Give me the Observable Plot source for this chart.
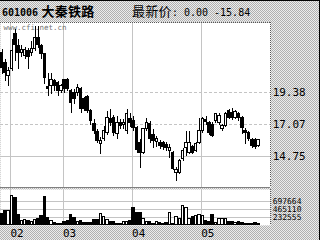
<!DOCTYPE html>
<html><head><meta charset="utf-8">
<script src="https://cdn.jsdelivr.net/npm/d3@7"></script>
<script src="https://cdn.jsdelivr.net/npm/@observablehq/plot@0.6"></script>
<style>
html,body{margin:0;padding:0;background:#fff;}
#wrap{position:relative;width:320px;height:240px;overflow:hidden;box-sizing:border-box;
 background-color:#d0d0d0;
 background-image:conic-gradient(#b0b0b0 25%, #ececec 0 50%, #b0b0b0 0 75%, #ececec 0);
 background-size:2px 2px;border-top:1px solid #000;border-right:1px solid #000;}
#head{position:absolute;left:0;top:0;height:20px;width:320px;white-space:nowrap;}
.t{position:absolute;top:1px;font-size:13px;line-height:17px;color:#000;}
.m{font-family:"DejaVu Sans Mono",monospace;font-size:10px;}
.c{font-family:"Noto Sans CJK SC",sans-serif;font-size:13px;}
#price{position:absolute;left:0;top:20px;}
#vol{position:absolute;left:0;top:186px;}
svg{display:block;}
</style></head>
<body><div id="wrap">
<div id="head">
 <span class="t" style="left:2px;font-weight:bold;"><span class="m" style="font-weight:bold">601006</span> <span class="c" style="font-weight:bold;letter-spacing:0.3px">大秦铁路</span></span>
 <span class="t" style="left:132px;"><span class="c" style="letter-spacing:0.3px">最新价</span><span class="m">: 0.00 -15.84</span></span>
</div>
<div id="price"></div>
<div id="vol"></div>
</div>
<script>
const open  = [22.20,21.48,20.54,21.04,23.60,22.71,22.20,21.99,22.35,22.27,22.56,23.29,22.71,22.13,19.74,19.81,20.18,20.03,19.45,20.25,20.25,19.45,19.31,19.31,19.60,18.87,19.02,18.01,17.06,16.49,15.62,15.98,16.41,17.43,17.50,16.34,17.14,16.99,16.56,17.43,17.28,16.78,15.69,14.97,16.70,17.06,16.27,15.76,15.69,15.69,15.55,15.11,14.97,13.52,13.52,14.53,15.33,14.97,15.40,15.11,15.69,16.56,17.35,17.14,16.99,17.28,17.14,16.70,16.92,18.01,17.86,17.50,17.79,17.50,16.56,16.41,15.91,15.91,15.47];
const close = [21.12,20.75,20.90,22.35,22.85,22.20,22.49,22.42,21.91,22.56,23.29,22.85,22.13,20.39,19.60,20.25,19.81,19.45,19.81,19.60,19.60,18.58,18.87,19.67,18.15,18.15,18.01,17.28,16.56,15.83,15.83,16.56,17.50,17.14,16.41,17.14,16.92,17.14,17.79,17.14,16.78,15.18,14.97,16.70,17.14,15.98,15.83,15.98,15.47,15.40,15.33,15.33,13.81,13.74,14.39,15.11,15.69,15.69,14.97,15.62,16.56,17.43,17.21,16.41,16.20,17.79,17.64,16.92,17.79,17.50,17.50,17.93,17.50,16.78,16.41,15.98,15.47,15.40,15.91];
const high  = [22.49,21.77,21.19,23.21,23.94,23.21,22.78,22.64,22.56,23.07,24.15,24.15,22.85,22.20,20.75,20.75,20.32,20.18,19.96,20.32,20.39,19.60,19.60,19.96,19.74,19.02,19.16,18.15,17.43,16.70,16.12,16.92,18.01,18.15,17.71,17.64,17.43,17.43,18.15,17.86,17.64,16.92,15.98,16.78,17.50,17.28,16.70,16.20,15.91,15.83,15.76,15.62,15.11,13.95,14.53,15.33,16.56,16.56,15.55,15.76,17.50,17.57,17.64,17.28,17.21,17.86,17.86,17.06,17.93,18.15,18.22,18.08,17.93,17.64,16.78,16.56,16.05,16.05,15.98];
const low   = [20.68,20.18,19.81,20.90,21.62,21.04,21.91,21.77,21.04,21.99,22.35,22.56,21.77,19.96,19.09,19.24,19.45,19.09,19.31,19.31,19.45,17.86,18.51,19.09,17.86,18.01,17.86,16.99,16.34,15.69,14.89,15.83,16.27,16.92,16.20,15.98,16.70,16.70,16.34,16.85,16.56,14.97,13.88,14.89,16.56,15.69,15.33,15.40,15.26,15.18,15.11,14.61,13.74,12.94,13.45,14.39,14.75,14.89,14.89,15.04,15.62,16.41,16.99,16.27,16.12,17.14,16.99,16.56,16.85,17.43,17.35,17.43,17.28,16.34,15.62,15.83,15.33,15.26,15.40];
const volume = [336000,406000,406000,870000,792000,290000,116000,145000,116000,96000,164000,174000,271000,841000,212000,116000,67000,48000,40000,96000,116000,290000,223000,96000,116000,77000,67000,67000,145000,164000,338000,242000,164000,96000,96000,48000,29000,96000,96000,116000,502000,358000,358000,174000,96000,96000,48000,96000,77000,48000,77000,358000,29000,242000,174000,561000,502000,174000,242000,261000,309000,271000,116000,96000,290000,77000,174000,174000,174000,96000,96000,77000,96000,77000,48000,29000,48000,67000,40000];
const monthStarts = [3, 19, 40, 61];
const monthLabels = ["02", "03", "04", "05"];
const priceTicks = [14.75, 17.07, 19.38];
const volumeTicks = [232555, 465110, 697664];

const rows = open.map((o, i) => ({i, o, c: close[i], h: high[i], l: low[i], v: volume[i], up: close[i] >= open[i]}));
const XDOM = [0, 82.12];
const GRID = "#c4c4c4";
const mono = "DejaVu Sans Mono";

const price = Plot.plot({
  width: 320, height: 167, marginLeft: 0, marginRight: 49, marginTop: 1, marginBottom: 0,
  x: {domain: XDOM, axis: null},
  y: {domain: [12.44, 24.45], axis: null},
  style: {background: "transparent", overflow: "visible"},
  marks: [
    Plot.frame({fill: "white"}),
    Plot.ruleY(priceTicks.filter((d, k) => k > 0), {stroke: GRID, strokeDasharray: "3,2", shapeRendering: "crispEdges"}),
    Plot.ruleY(priceTicks.filter((d, k) => k === 0), {stroke: GRID, shapeRendering: "crispEdges"}),
    Plot.ruleX(monthStarts, {stroke: GRID, strokeDasharray: (d, k) => k === 2 ? "3,2" : null, shapeRendering: "crispEdges"}),
    Plot.text(["www.cfi.net.cn"], {frameAnchor: "top-left", dx: 3, dy: 2, fontFamily: mono, fontSize: 7.5, fill: "#777", textAnchor: "start", lineAnchor: "top"}),
    Plot.ruleX(rows, {x: d => d.i + 0.5, y1: "l", y2: "h", stroke: "black", shapeRendering: "crispEdges"}),
    Plot.rect(rows, {x1: d => d.i + 0.12, x2: d => d.i + 0.88, y1: "o", y2: "c", fill: d => d.up ? "white" : "black", stroke: "black", shapeRendering: "crispEdges"}),
    Plot.ruleY([12.44], {stroke: "#808080", shapeRendering: "crispEdges"}),
    Plot.ruleY([24.45], {stroke: "#555", strokeDasharray: "1,1", shapeRendering: "crispEdges"}),
    Plot.ruleX([XDOM[1]], {stroke: "#555", strokeDasharray: "1,1", shapeRendering: "crispEdges"}),
    Plot.axisY({anchor: "right", label: null, ticks: priceTicks, tickSize: 0, tickPadding: 2, tickFormat: d => d.toFixed(2), fontSize: 11, fontFamily: mono, fill: "black"})
  ]
});
document.getElementById("price").appendChild(price);

const vol = Plot.plot({
  width: 320, height: 54, marginLeft: 0, marginRight: 49, marginTop: 2, marginBottom: 16,
  x: {domain: XDOM, axis: null},
  y: {domain: [0, 1046500], axis: null},
  style: {background: "transparent", overflow: "visible"},
  marks: [
    Plot.frame({fill: "white"}),
    Plot.ruleY(volumeTicks, {stroke: GRID, shapeRendering: "crispEdges"}),
    Plot.ruleX(monthStarts, {stroke: GRID, strokeDasharray: (d, k) => k === 2 ? "3,2" : null, shapeRendering: "crispEdges"}),
    Plot.rect(rows, {x1: d => d.i + 0.12, x2: d => d.i + 0.88, y1: 0, y2: "v", fill: d => d.up ? "white" : "black", stroke: "black", shapeRendering: "crispEdges"}),
    Plot.ruleX([XDOM[1]], {stroke: "#555", strokeDasharray: "1,1", shapeRendering: "crispEdges"}),
    Plot.axisY({anchor: "right", label: null, ticks: volumeTicks, tickSize: 0, tickPadding: 2, tickFormat: d => String(d), fontSize: 8, fontFamily: mono, fill: "black", style: {letterSpacing: "0.3px"}}),
    Plot.axisX({label: null, ticks: monthStarts, tickSize: 0, tickPadding: 4, textAnchor: "start", tickFormat: d => monthLabels[monthStarts.indexOf(d)], fontSize: 11, fontFamily: mono, fill: "black"})
  ]
});
document.getElementById("vol").appendChild(vol);
</script>
</body></html>
